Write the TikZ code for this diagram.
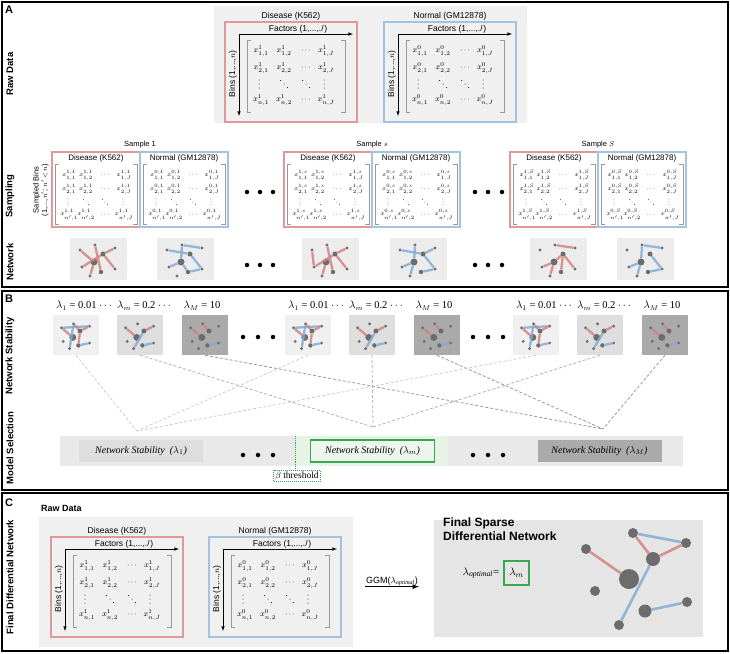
\documentclass[tikz,border=0pt]{standalone}
\usepackage{fontspec}
\setmainfont{Liberation Serif}
\setsansfont{Liberation Sans}

\definecolor{disred}{RGB}{224,152,152}
\definecolor{normblue}{RGB}{162,196,226}
\definecolor{edgered}{RGB}{214,128,128}
\definecolor{edgeblue}{RGB}{132,172,212}
\definecolor{dotgray}{RGB}{108,108,108}
\definecolor{bgpale}{RGB}{240,240,240}
\definecolor{netbg}{RGB}{236,236,236}
\definecolor{bgmid}{RGB}{222,222,222}
\definecolor{bgdark}{RGB}{170,170,170}
\definecolor{barbg}{RGB}{233,233,233}
\definecolor{finbg}{RGB}{229,229,229}
\definecolor{selgreen}{RGB}{58,166,82}
\definecolor{palegreen}{RGB}{229,244,229}

\tikzset{
  panel/.style={draw=black, line width=1.2pt},
  panellab/.style={font=\sffamily\bfseries\fontsize{11}{12}\selectfont, inner sep=0pt},
  rowlab/.style={font=\sffamily\bfseries\fontsize{9.5}{11}\selectfont, rotate=90, inner sep=0pt},
  lab/.style={font=\sffamily\fontsize{8.5}{10}\selectfont, inner sep=1pt},
  smalllab/.style={font=\sffamily\fontsize{8}{9}\selectfont, inner sep=1pt},
  tinylab/.style={font=\sffamily\fontsize{7.5}{8.5}\selectfont, inner sep=1pt, align=center},
  area/.style={fill=#1, inner sep=0pt},
  rawbox/.style={line width=2.4pt, minimum width=132pt, minimum height=100pt, inner sep=0pt},
  sampbox/.style={line width=2.4pt, minimum width=88pt, minimum height=75pt, inner sep=0pt},
  axis/.style={-latex, line width=0.6pt},
  brack/.style={gray!80, line width=0.7pt},
  entry/.style={font=\fontsize{8}{9}\selectfont, inner sep=0pt},
  sentry/.style={font=\fontsize{5.6}{6}\selectfont, inner sep=0pt},
  gnode/.style={circle, fill=dotgray, inner sep=0pt, minimum size=#1},
  netedge/.style={line width=2.3pt, opacity=.85},
  thumbA/.style={fill=netbg, minimum width=57pt, minimum height=42pt, inner sep=0pt},
  thumbB/.style={fill=#1, minimum width=46pt, minimum height=40pt, inner sep=0pt},
  bigdot/.style={circle, fill=black, inner sep=0pt, minimum size=4.5pt},
  lamlab/.style={font=\fontsize{10.5}{12}\selectfont, inner sep=1pt},
  stabline/.style={dash pattern=on 3pt off 2pt, line width=0.8pt, draw=#1},
  stabbox/.style={minimum width=124pt, minimum height=22pt, inner sep=0pt, font=\fontsize{10}{12}\selectfont\itshape},
}

% raw data block: top-left x, y, colour, title, superscript, name
\newcommand{\rawblock}[6]{%
  \begin{scope}[shift={(#1,#2)}]
    \node[rawbox, draw=#3] (#6) at (66,50) {};
    \node[lab] (#6t) at (66,-6) {#4};
    \node[lab] (#6f) at (73,7) {Factors (1,...,$J$)};
    \coordinate (#6o) at (14,12);
    \coordinate (#6x) at (128,12);
    \coordinate (#6y) at (14,94);
    \draw[axis] (#6o) -- (#6x);
    \draw[axis] (#6o) -- (#6y);
    \node[lab, rotate=90] (#6b) at (8,52) {Bins (1,...,$n$)};
    \draw[brack] (26,18) -| (22,90) -- (26,90);
    \draw[brack] (116,18) -| (120,90) -- (116,90);
    \foreach \rw/\ry/\rrs in {1/29/1,2/46/2,4/78/n}{
      \foreach \cl/\cx/\ccs in {1/36/1,2/59/2,4/101/J}
        \node[entry] (#6e\rw\cl) at (\cx,\ry) {$x^{#5}_{\rrs,\ccs}$};
      \node[entry] (#6e\rw3) at (81,\ry) {$\cdots$};
    }
    % vertical and diagonal dots
    \foreach \dx in {34,99} \foreach \dd in {-4,0,4}
      \fill (\dx,62+\dd) circle (0.5);
    \foreach \dx in {59,81} \foreach \dd in {-3.5,0,3.5}
      \fill (\dx+\dd,62+\dd) circle (0.5);
  \end{scope}}

% sampled block: top-left x, y, colour, title, superscript, name
\newcommand{\sampblock}[6]{%
  \begin{scope}[shift={(#1,#2)}]
    \node[sampbox, draw=#3] (#6) at (44,37.5) {};
    \node[smalllab] (#6t) at (44,6) {#4};
    \draw[brack] (7,12) -| (3,72) -- (7,72);
    \draw[brack] (81,12) -| (85,72) -- (81,72);
    \foreach \rw/\ry/\rrs in {1/23/1,2/37/2,4/63/n'}{
      \foreach \cl/\cx/\ccs in {1/17/1,2/34/2,4/72/J}
        \node[sentry] (#6e\rw\cl) at (\cx,\ry) {$x^{#5}_{\rrs,\ccs}$};
      \node[sentry] (#6e\rw3) at (53,\ry) {$\cdots$};
    }
    \foreach \dx in {16,71} \foreach \dd in {-3,0,3}
      \fill (\dx,50+\dd) circle (0.4);
    \foreach \dx in {34,53} \foreach \dd in {-2.6,0,2.6}
      \fill (\dx+\dd,50+\dd) circle (0.4);
  \end{scope}}

% small network: centre x, y, name, box style, scale, edges
\newcommand{\net}[6]{%
  \node[#4] (#3) at (#1,#2) {};
  \begin{scope}[shift={(#1,#2)}, scale=#5]
    \foreach \k/\kx/\ky/\kd in {a/-18/-9/3.2, b/-3/-14/3.2, c/17/-11/3.2, d/-4/3/7,
        e/5/-5/5, f/-16/8/3.2, g/3/13/4.4, h/17/10/3.2, i/-8/17/3.2}
      \node[gnode=\kd pt] (#3 \k) at (\kx,\ky) {};
    \foreach \ea/\eb/\es in {#6}
      \draw[netedge, color=\es] (#3 \ea) -- (#3 \eb);
  \end{scope}}

\begin{document}
\begin{tikzpicture}[x=1pt,y=-1pt]
  \useasboundingbox (0,0) rectangle (730,653);

  % ---- panel A
  \draw[panel] (2,2) rectangle (728,287);
  \node[panellab] (pA) at (9,10) {A};
  \node[rowlab] (rawlab) at (10,74) {Raw Data};
  \node[rowlab] (samplab) at (10,196) {Sampling};
  \node[rowlab] (netlab) at (10,262) {Network};

  \node[area=bgpale, minimum width=313pt, minimum height=117pt] (abg) at (370.5,64.5) {};
  \rawblock{225}{22}{disred}{Disease (K562)}{1}{ad}
  \rawblock{384}{22}{normblue}{Normal (GM12878)}{0}{an}

  \node[tinylab, rotate=90] (sbins) at (41,190) {Sampled Bins\\(1,...,$n'$; $n'\!<\!n$)};
  \foreach \sx/\stxt/\smp/\snm in {52/1/1/sa, 284/{$s$}/s/sb, 510/{$S$}/S/sc}{
    \sampblock{\sx}{152}{disred}{Disease (K562)}{1,\smp}{\snm d}
    \sampblock{\sx+88}{152}{normblue}{Normal (GM12878)}{0,\smp}{\snm n}
    \node[tinylab] (\snm lab) at (\sx+88,145) {Sample \stxt};
  }

  \net{98}{259}{na1}{thumbA}{1}{a/d/edgered, b/g/edgered, e/c/edgered, e/h/edgered, f/e/edgered, d/i/edgered}
  \net{185}{259}{nb1}{thumbA}{1}{a/e/edgeblue, b/d/edgeblue, b/c/edgeblue, f/d/edgeblue, d/g/edgeblue, g/h/edgeblue, e/h/edgeblue}
  \net{330}{259}{na2}{thumbA}{1}{a/f/edgered, f/e/edgered, b/g/edgered, e/c/edgered, e/h/edgered, d/i/edgered}
  \net{418}{259}{nb2}{thumbA}{1}{b/d/edgeblue, f/d/edgeblue, d/i/edgeblue, e/c/edgeblue, e/h/edgeblue, g/h/edgeblue, a/e/edgeblue}
  \net{558}{259}{na3}{thumbA}{1}{b/c/edgered, f/d/edgered, d/i/edgered, e/g/edgered, e/h/edgered, d/e/edgered}
  \net{645}{259}{nb3}{thumbA}{1}{b/c/edgeblue, b/d/edgeblue, e/h/edgeblue, f/d/edgeblue, d/i/edgeblue, g/h/edgeblue}

  \foreach \dx in {247,260,273,475,488,502}{
    \node[bigdot] (sdot\dx) at (\dx,192) {};
    \node[bigdot] (ndot\dx) at (\dx,265) {};
  }

  % ---- panel B
  \draw[panel] (2,291) rectangle (728,490);
  \node[panellab] (pB) at (9,299) {B};
  \node[rowlab] (stablab) at (10,356) {Network Stability};
  \node[rowlab] (sellab) at (10,448) {Model Selection};

  \coordinate (cv1) at (137,431);
  \coordinate (cvm) at (373,427);
  \coordinate (cvM) at (603,429);

  \foreach \g/\off in {1/0, 2/232, 3/460}{
    \node[lamlab] (lo\g) at (84+\off,306) {$\lambda_1$ = 0.01 $\cdots$};
    \node[lamlab] (lmid\g) at (144+\off,306) {$\lambda_m$ = 0.2 $\cdots$};
    \node[lamlab] (lhi\g) at (202+\off,306) {$\lambda_M$ = 10};
    \net{76+\off}{335}{t\g a}{thumbB=bgpale}{0.8}{a/d/edgered, a/c/edgeblue, e/c/edgered, e/g/edgered, b/i/edgeblue, g/h/edgeblue, b/e/edgered}
    \net{140+\off}{335}{t\g b}{thumbB=bgmid}{0.8}{a/d/edgered, e/c/edgered, e/i/edgeblue, g/h/edgeblue}
    \net{205+\off}{335}{t\g c}{thumbB=bgdark}{0.8}{a/d/edgered, b/e/edgered, g/h/edgeblue}
    \draw[stabline=gray!40] (t\g a.south) -- (cv1);
    \draw[stabline=gray!60] (t\g b.south) -- (cvm);
    \draw[stabline=gray!80] (t\g c.south) -- (cvM);
  }

  \node[area=barbg, minimum width=623pt, minimum height=30pt] (bar) at (371.5,451) {};
  \node[area=palegreen, minimum width=152pt, minimum height=30pt] (selzone) at (372,451) {};
  \node[stabbox, fill=bgmid] (st1) at (141,451) {Network Stability\ \ ($\lambda_1$)};
  \node[stabbox, fill={rgb,255:red,237;green,246;blue,237}, draw=selgreen, line width=1.2pt] (stm) at (372.5,451) {Network Stability\ \ ($\lambda_m$)};
  \node[stabbox, fill=bgdark] (stM) at (599.5,451) {Network Stability\ \ ($\lambda_M$)};
  \node[draw=selgreen, densely dotted, line width=1pt, inner sep=1.5pt, font=\fontsize{9.5}{11}\selectfont] (beta) at (297,476) {$\beta$ threshold};
  \draw[selgreen, densely dotted, line width=0.9pt] (selzone.north west) -- (selzone.north west |- beta.north);
  \foreach \dx in {243,258,273,473,488,503}{
    \node[bigdot] (tdot\dx) at (\dx,337) {};
    \node[bigdot] (bdot\dx) at (\dx,455) {};
  }

  % ---- panel C
  \draw[panel] (2,493) rectangle (728,651);
  \node[panellab] (pC) at (9,503) {C};
  \node[rowlab] (finlab) at (10,577) {Final Differential Network};
  \node[font=\sffamily\bfseries\fontsize{9}{10}\selectfont, anchor=west, inner sep=0pt] (crawlab) at (41,508) {Raw Data};

  \node[area=bgpale, minimum width=314pt, minimum height=130pt] (cbg) at (196,582) {};
  \rawblock{51}{537}{disred}{Disease (K562)}{1}{cd}
  \rawblock{209}{537}{normblue}{Normal (GM12878)}{0}{cn}

  \node[lab, font=\sffamily\fontsize{9}{10}\selectfont] (ggm) at (392,581) {GGM($\lambda_{\mathit{optimal}}$)};
  \draw[-latex, line width=1.2pt] (ggm.south west) -- (ggm.south east);

  \node[area=finbg, minimum width=269pt, minimum height=117pt] (fbg) at (568.5,578.5) {};
  \node[font=\sffamily\bfseries\fontsize{12}{14}\selectfont, anchor=base west, align=left, inner sep=0pt] (ftitle) at (443,540) {Final Sparse\\Differential Network};
  \node[font=\fontsize{11}{12}\selectfont, inner sep=0pt] (lopt) at (481,573) {$\lambda_{\mathit{optimal}}$=};
  \node[draw=selgreen, line width=1.2pt, minimum width=25pt, minimum height=24pt, inner sep=0pt, font=\fontsize{11}{12}\selectfont] (lmbox) at (516.5,573) {$\lambda_m$};

  \foreach \k/\kx/\ky/\kd in {1/633/533/10, 2/686/543/10, 3/653/559/14, 4/586/549/10, 5/629/579/20,
      6/595/591/10, 7/645/611/13, 8/687/602/10, 9/619/625/10}
    \node[gnode=\kd pt] (fn\k) at (\kx,\ky) {};
  \foreach \ea/\eb/\es in {1/2/edgeblue, 1/3/edgered, 3/2/edgered, 4/5/edgered, 3/9/edgeblue, 7/8/edgeblue}
    \draw[netedge, line width=2.6pt, color=\es] (fn\ea) -- (fn\eb);
\end{tikzpicture}
\end{document}
